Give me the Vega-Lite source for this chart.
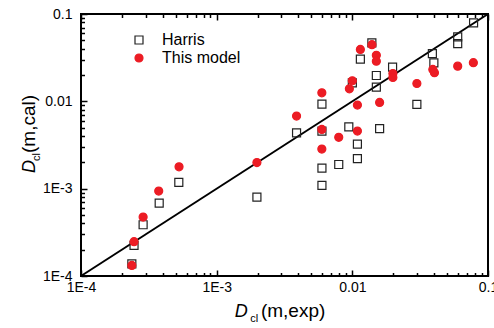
{
  "$schema": "https://vega.github.io/schema/vega-lite/v6.json",
  "width": 407,
  "height": 262,
  "autosize": "none",
  "padding": {"left": 81, "top": 14, "right": 6, "bottom": 52},
  "config": {
    "font": "Liberation Sans",
    "view": {"stroke": "black", "strokeWidth": 2},
    "axis": {"grid": false, "domain": false, "tickColor": "black", "tickWidth": 1.5, "labelColor": "black", "labelFontSize": 14, "labelFont": "Liberation Sans"}
  },
  "datasets": {
    "diagonal": [
      {"exp": 0.0001, "cal": 0.0001},
      {"exp": 0.1, "cal": 0.1}
    ],
    "titles": [
      {"part": "axis titles"}
    ],
    "points": [
      {"source": "Harris", "exp": 0.000237, "cal": 0.000138},
      {"source": "Harris", "exp": 0.000246, "cal": 0.000224},
      {"source": "Harris", "exp": 0.000287, "cal": 0.000386},
      {"source": "Harris", "exp": 0.000377, "cal": 0.000684},
      {"source": "Harris", "exp": 0.000526, "cal": 0.00118},
      {"source": "Harris", "exp": 0.00198, "cal": 0.0008},
      {"source": "Harris", "exp": 0.00388, "cal": 0.00436},
      {"source": "Harris", "exp": 0.00597, "cal": 0.00929},
      {"source": "Harris", "exp": 0.00597, "cal": 0.00456},
      {"source": "Harris", "exp": 0.00597, "cal": 0.00172},
      {"source": "Harris", "exp": 0.00597, "cal": 0.00109},
      {"source": "Harris", "exp": 0.00794, "cal": 0.00189},
      {"source": "Harris", "exp": 0.00942, "cal": 0.00511},
      {"source": "Harris", "exp": 0.0100, "cal": 0.0163},
      {"source": "Harris", "exp": 0.0109, "cal": 0.00324},
      {"source": "Harris", "exp": 0.0109, "cal": 0.00221},
      {"source": "Harris", "exp": 0.01146, "cal": 0.0304},
      {"source": "Harris", "exp": 0.01393, "cal": 0.0467},
      {"source": "Harris", "exp": 0.01503, "cal": 0.01977},
      {"source": "Harris", "exp": 0.01503, "cal": 0.01452},
      {"source": "Harris", "exp": 0.01589, "cal": 0.00487},
      {"source": "Harris", "exp": 0.0198, "cal": 0.0246},
      {"source": "Harris", "exp": 0.0299, "cal": 0.00925},
      {"source": "Harris", "exp": 0.0389, "cal": 0.0352},
      {"source": "Harris", "exp": 0.0399, "cal": 0.0276},
      {"source": "Harris", "exp": 0.0598, "cal": 0.0547},
      {"source": "Harris", "exp": 0.0598, "cal": 0.0459},
      {"source": "Harris", "exp": 0.0783, "cal": 0.0791},
      {"source": "This model", "exp": 0.000237, "cal": 0.000132},
      {"source": "This model", "exp": 0.000246, "cal": 0.000247},
      {"source": "This model", "exp": 0.000287, "cal": 0.000473},
      {"source": "This model", "exp": 0.000374, "cal": 0.000939},
      {"source": "This model", "exp": 0.000528, "cal": 0.00178},
      {"source": "This model", "exp": 0.00198, "cal": 0.00199},
      {"source": "This model", "exp": 0.00388, "cal": 0.00678},
      {"source": "This model", "exp": 0.00596, "cal": 0.0125},
      {"source": "This model", "exp": 0.00596, "cal": 0.00477},
      {"source": "This model", "exp": 0.00596, "cal": 0.00284},
      {"source": "This model", "exp": 0.00794, "cal": 0.00387},
      {"source": "This model", "exp": 0.00951, "cal": 0.0139},
      {"source": "This model", "exp": 0.0100, "cal": 0.0172},
      {"source": "This model", "exp": 0.0109, "cal": 0.00906},
      {"source": "This model", "exp": 0.0109, "cal": 0.00456},
      {"source": "This model", "exp": 0.01146, "cal": 0.0393},
      {"source": "This model", "exp": 0.01395, "cal": 0.0445},
      {"source": "This model", "exp": 0.01503, "cal": 0.0336},
      {"source": "This model", "exp": 0.01503, "cal": 0.0288},
      {"source": "This model", "exp": 0.01589, "cal": 0.00971},
      {"source": "This model", "exp": 0.0199, "cal": 0.0208},
      {"source": "This model", "exp": 0.0199, "cal": 0.01875},
      {"source": "This model", "exp": 0.0299, "cal": 0.016},
      {"source": "This model", "exp": 0.0392, "cal": 0.0232},
      {"source": "This model", "exp": 0.0403, "cal": 0.0213},
      {"source": "This model", "exp": 0.0598, "cal": 0.0253},
      {"source": "This model", "exp": 0.078, "cal": 0.0277}
    ]
  },
  "layer": [
    {
      "data": {"name": "diagonal"},
      "mark": {"type": "line", "color": "black", "strokeWidth": 2},
      "encoding": {
        "x": {
          "field": "exp", "type": "quantitative",
          "scale": {"type": "log", "domain": [0.0001, 0.1], "nice": false},
          "axis": {
            "orient": "bottom", "title": null,
            "values": [0.0001,0.0002,0.0003,0.0004,0.0005,0.0006,0.0007,0.0008,0.0009,0.001,0.002,0.003,0.004,0.005,0.006,0.007,0.008,0.009,0.01,0.02,0.03,0.04,0.05,0.06,0.07,0.08,0.09,0.1],
            "labelExpr": "abs(log(datum.value)/LN10 - round(log(datum.value)/LN10)) > 0.001 ? '' : datum.value < 0.0005 ? '1E-4' : datum.value < 0.005 ? '1E-3' : datum.value < 0.05 ? '0.01' : '0.1'",
            "labelOverlap": false,
            "labelFlush": false,
            "labelPadding": 10,
            "tickSize": {"condition": {"test": "abs(log(datum.value)/LN10 - round(log(datum.value)/LN10)) < 0.001", "value": -6}, "value": -3.5}
          }
        },
        "y": {
          "field": "cal", "type": "quantitative",
          "scale": {"type": "log", "domain": [0.0001, 0.1], "nice": false},
          "axis": {
            "orient": "left", "title": null,
            "values": [0.0001,0.0002,0.0003,0.0004,0.0005,0.0006,0.0007,0.0008,0.0009,0.001,0.002,0.003,0.004,0.005,0.006,0.007,0.008,0.009,0.01,0.02,0.03,0.04,0.05,0.06,0.07,0.08,0.09,0.1],
            "labelExpr": "abs(log(datum.value)/LN10 - round(log(datum.value)/LN10)) > 0.001 ? '' : datum.value < 0.0005 ? '1E-4' : datum.value < 0.005 ? '1E-3' : datum.value < 0.05 ? '0.01' : '0.1'",
            "labelOverlap": false,
            "labelFlush": false,
            "labelPadding": 15,
            "tickSize": {"condition": {"test": "abs(log(datum.value)/LN10 - round(log(datum.value)/LN10)) < 0.001", "value": -6}, "value": -3.5}
          }
        }
      }
    },
    {
      "data": {"name": "points"},
      "mark": {"type": "point", "size": 64, "strokeWidth": 1.2, "opacity": 1},
      "encoding": {
        "x": {
          "field": "exp", "type": "quantitative",
          "axis": {
            "orient": "top", "title": null, "labels": false,
            "values": [0.0001,0.0002,0.0003,0.0004,0.0005,0.0006,0.0007,0.0008,0.0009,0.001,0.002,0.003,0.004,0.005,0.006,0.007,0.008,0.009,0.01,0.02,0.03,0.04,0.05,0.06,0.07,0.08,0.09,0.1],
            "tickSize": {"condition": {"test": "abs(log(datum.value)/LN10 - round(log(datum.value)/LN10)) < 0.001", "value": -6}, "value": -3.5}
          }
        },
        "y": {"field": "cal", "type": "quantitative"},
        "shape": {
          "field": "source", "type": "nominal",
          "scale": {"domain": ["Harris", "This model"], "range": ["square", "circle"]},
          "legend": {"title": null, "orient": "none", "legendX": 50, "legendY": 18, "padding": 0, "labelFontSize": 16, "labelColor": "black", "labelFont": "Liberation Sans", "symbolSize": 64, "symbolStrokeWidth": 1.2, "labelOffset": 15, "rowPadding": 2}
        },
        "fill": {
          "field": "source", "type": "nominal",
          "scale": {"domain": ["Harris", "This model"], "range": ["transparent", "#ec1c24"]},
          "legend": {"title": null, "orient": "none", "legendX": 50, "legendY": 18, "padding": 0, "labelFontSize": 16, "labelColor": "black", "labelFont": "Liberation Sans", "symbolSize": 64, "symbolStrokeWidth": 1.2, "labelOffset": 15, "rowPadding": 2}
        },
        "stroke": {
          "field": "source", "type": "nominal",
          "scale": {"domain": ["Harris", "This model"], "range": ["#222222", "#ec1c24"]},
          "legend": {"title": null, "orient": "none", "legendX": 50, "legendY": 18, "padding": 0, "labelFontSize": 16, "labelColor": "black", "labelFont": "Liberation Sans", "symbolSize": 64, "symbolStrokeWidth": 1.2, "labelOffset": 15, "rowPadding": 2}
        }
      }
    },
    {
      "data": {"name": "titles"},
      "layer": [
        {
          "mark": {"type": "text", "text": "D", "font": "Liberation Sans", "fontStyle": "italic", "fontSize": 18, "align": "left", "baseline": "alphabetic", "color": "black"},
          "encoding": {
            "x": {"datum": 0.00136, "type": "quantitative", "axis": null},
            "y": {"datum": 0.0000342, "type": "quantitative"}
          }
        },
        {
          "mark": {"type": "text", "text": "cl", "font": "Liberation Sans", "fontSize": 11, "align": "left", "baseline": "alphabetic", "color": "black"},
          "encoding": {
            "x": {"datum": 0.00177, "type": "quantitative", "axis": null},
            "y": {"datum": 0.0000300, "type": "quantitative"}
          }
        },
        {
          "mark": {"type": "text", "text": "(m,exp)", "font": "Liberation Sans", "fontSize": 19, "align": "left", "baseline": "alphabetic", "color": "black"},
          "encoding": {
            "x": {"datum": 0.00212, "type": "quantitative", "axis": null},
            "y": {"datum": 0.0000342, "type": "quantitative"}
          }
        },
        {
          "mark": {"type": "text", "text": "D", "font": "Liberation Sans", "fontStyle": "italic", "fontSize": 18, "align": "left", "baseline": "alphabetic", "angle": 270, "color": "black"},
          "encoding": {
            "x": {"datum": 0.0000460, "type": "quantitative", "axis": null},
            "y": {"datum": 0.00151, "type": "quantitative"}
          }
        },
        {
          "mark": {"type": "text", "text": "cl", "font": "Liberation Sans", "fontSize": 11, "align": "left", "baseline": "alphabetic", "angle": 270, "color": "black"},
          "encoding": {
            "x": {"datum": 0.0000495, "type": "quantitative", "axis": null},
            "y": {"datum": 0.00207, "type": "quantitative"}
          }
        },
        {
          "mark": {"type": "text", "text": "(m,cal)", "font": "Liberation Sans", "fontSize": 19, "align": "left", "baseline": "alphabetic", "angle": 270, "color": "black"},
          "encoding": {
            "x": {"datum": 0.0000460, "type": "quantitative", "axis": null},
            "y": {"datum": 0.00256, "type": "quantitative"}
          }
        }
      ]
    }
  ]
}
